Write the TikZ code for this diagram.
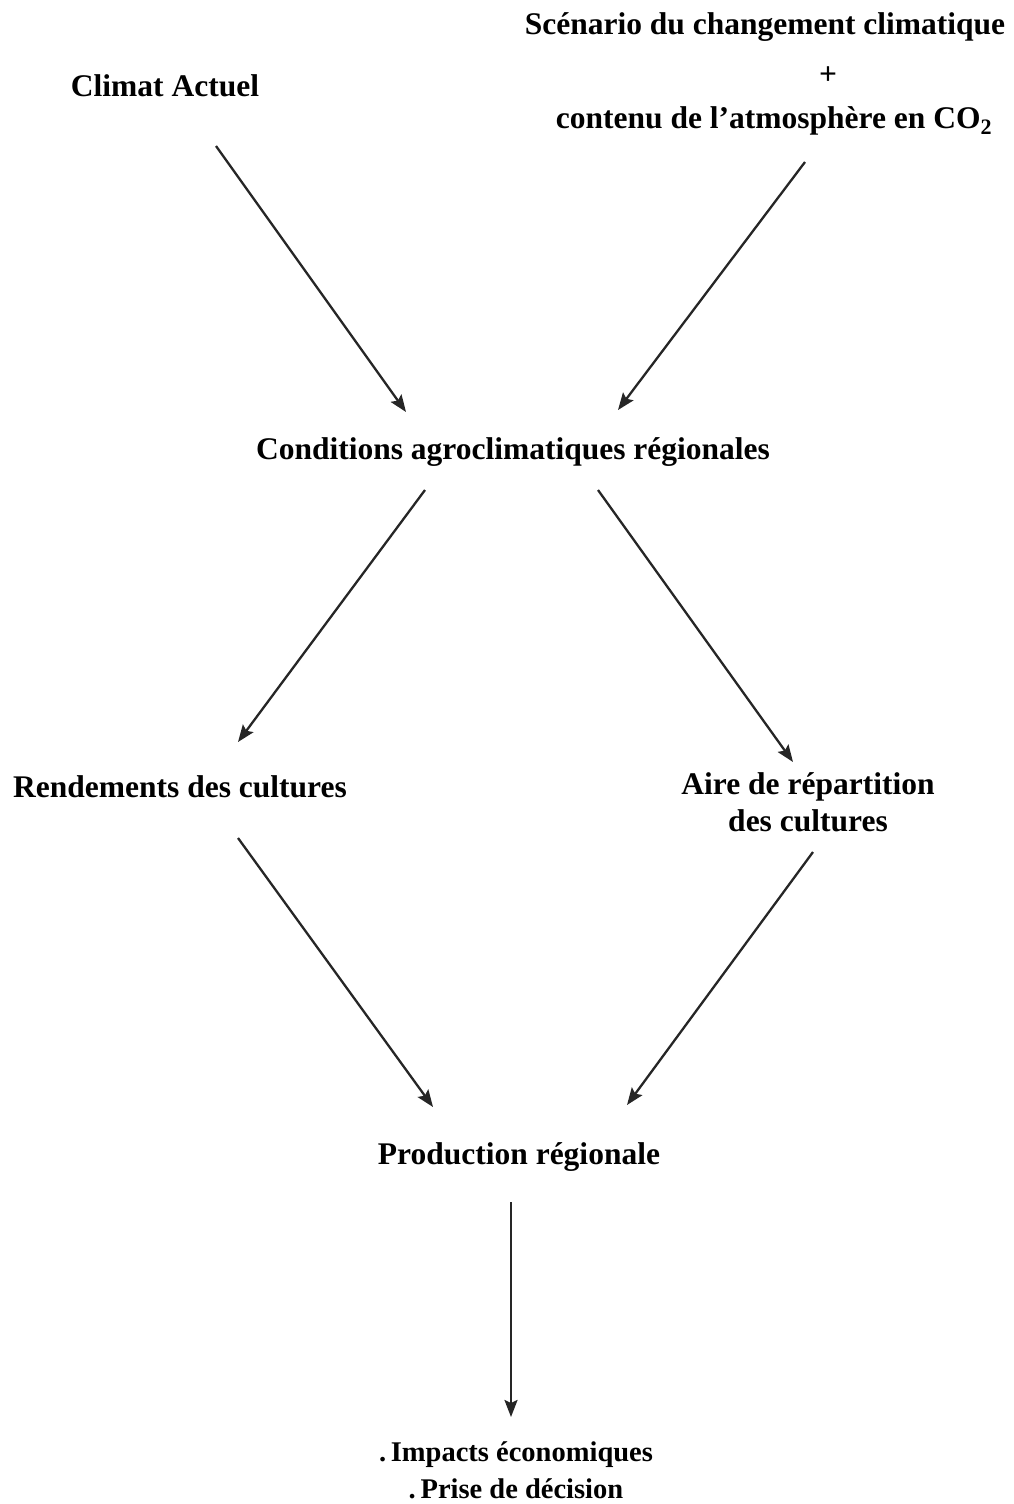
\documentclass[tikz,border=0pt]{standalone}
\usepackage{fontspec}
\setmainfont{Liberation Serif}
\usetikzlibrary{arrows.meta}
\begin{document}
\begin{tikzpicture}[x=1pt,y=-1pt,
  lbl/.style={font=\bfseries\fontsize{31.5}{37}\selectfont, inner sep=0pt, align=center},
  arr/.style={line width=2.3pt, -{Stealth[length=17pt,width=13pt,inset=3pt]}, draw=black!85}]
\useasboundingbox (0,0) rectangle (1014,1504);
\node[lbl] (scen) at (765,27) {Scénario du changement climatique};
\node[lbl] (plus) at (828,76) {+};
\node[lbl] (co2) at (774,121) {contenu de l’atmosphère en CO\textsubscript{2}};
\node[lbl] (climat) at (165,86) {Climat Actuel};
\node[lbl] (cond) at (513,452) {Conditions agroclimatiques régionales};
\node[lbl] (rend) at (180,787) {Rendements des cultures};
\node[lbl] (aire) at (808,802) {Aire de répartition\\des cultures};
\node[lbl, font=\bfseries\fontsize{28.5}{37}\selectfont] (imp) at (516,1470) {.\,Impacts économiques\\.\,Prise de décision};
\node[lbl] (prod) at (519,1157) {Production régionale};
\coordinate (c1a) at (216,146); \coordinate (c1b) at (406,412);
\coordinate (c2a) at (805,162); \coordinate (c2b) at (618,410);
\coordinate (c3a) at (425,490); \coordinate (c3b) at (238,742);
\coordinate (c4a) at (598,490); \coordinate (c4b) at (793,762);
\coordinate (c5a) at (238,838); \coordinate (c5b) at (433,1107);
\coordinate (c6a) at (813,852); \coordinate (c6b) at (627,1105);
\coordinate (c7a) at (511,1202); \coordinate (c7b) at (511,1417);
\draw[arr] (c1a) -- (c1b);
\draw[arr] (c2a) -- (c2b);
\draw[arr] (c3a) -- (c3b);
\draw[arr] (c4a) -- (c4b);
\draw[arr] (c5a) -- (c5b);
\draw[arr] (c6a) -- (c6b);
\draw[arr] (c7a) -- (c7b);
\end{tikzpicture}
\end{document}
